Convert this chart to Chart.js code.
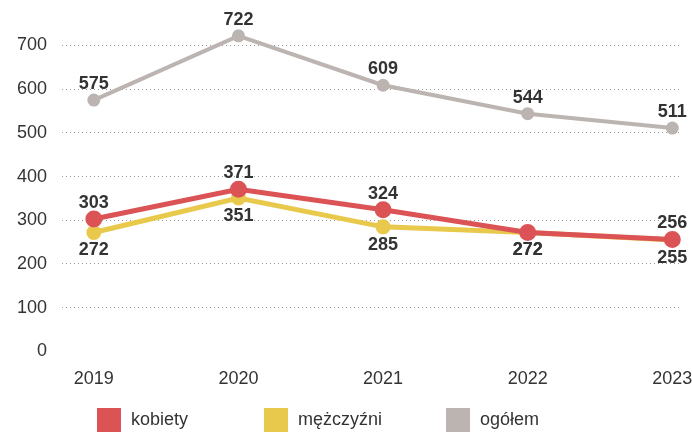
<!DOCTYPE html>
<html>
<head>
	<meta charset="utf-8">
	<title>Kobiety, mężczyźni, ogółem</title>
	<script src="https://cdn.jsdelivr.net/npm/chart.js@4.4.0/dist/chart.umd.min.js"></script>
	<style>
		html, body { margin: 0; padding: 0; background: #fff; }
		#wrap { width: 692px; height: 432px; }
	</style>
</head>
<body>
	<div id="wrap"><canvas id="mychart" width="692" height="432"></canvas></div>

	<script type="text/javascript">

		const years = [2019, 2020, 2021, 2022, 2023];
		const kobiety = [303, 371, 324, 272, 256];
		const mezczyzni = [272, 351, 285, 272, 255];
		const ogolem = [575, 722, 609, 544, 511];
		const yTicks = [0, 100, 200, 300, 400, 500, 600, 700];
		const legendNames = ['kobiety', 'mężczyźni', 'ogółem'];

		const FONT = "'Liberation Sans', Arial, sans-serif";
		const RED = '#db5355';
		const YELLOW = '#e8c94c';
		const GREY = '#bbb4b1';
		const legendColors = [RED, YELLOW, GREY];

		function pts(vals) {
			return vals.map((v, i) => ({ x: years[i], y: v }));
		}

		// value labels: grey and red above the point, yellow below;
		// where red meets yellow the red one goes below too
		const valueLabels = {
			id: 'valueLabels',
			afterDatasetsDraw(chart) {
				const ctx = chart.ctx;
				ctx.save();
				ctx.font = 'bold 18px ' + FONT;
				ctx.fillStyle = '#333';
				ctx.textAlign = 'center';
				chart.data.datasets.forEach((ds, di) => {
					const meta = chart.getDatasetMeta(di);
					meta.data.forEach((p, i) => {
						const v = ds.data[i].y;
						let below = ds.label === 'mężczyźni';
						if (ds.label === 'kobiety' && v === mezczyzni[i]) below = true;
						ctx.textBaseline = below ? 'top' : 'bottom';
						ctx.fillText(String(v), p.x, below ? p.y + 9 : p.y - 7);
					});
				});
				ctx.restore();
			}
		};

		// legend drawn by hand so it doesn't eat vertical space
		const bottomLegend = {
			id: 'bottomLegend',
			afterDraw(chart) {
				const ctx = chart.ctx;
				ctx.save();
				ctx.font = '18px ' + FONT;
				ctx.textBaseline = 'middle';
				let x = 97;
				const y = 420;
				legendNames.forEach((name, i) => {
					ctx.fillStyle = legendColors[i];
					ctx.fillRect(x, y - 12, 24, 24);
					ctx.fillStyle = '#333';
					ctx.fillText(name, x + 34, y);
					x += 34 + ctx.measureText(name).width + (i === 0 ? 76 : 64);
				});
				ctx.restore();
			}
		};

		const ctx = document.getElementById('mychart').getContext('2d');
		const myChart = new Chart(ctx, {
			type: 'line',
			data: {
				// first dataset is painted on top
				datasets: [
				{
					label: 'kobiety',
					data: pts(kobiety),
					borderColor: RED,
					backgroundColor: RED,
					borderWidth: 5,
					pointRadius: 6,
					fill: false
				},
				{
					label: 'mężczyźni',
					data: pts(mezczyzni),
					borderColor: YELLOW,
					backgroundColor: YELLOW,
					borderWidth: 5,
					pointRadius: 5,
					fill: false
				},
				{
					label: 'ogółem',
					data: pts(ogolem),
					borderColor: GREY,
					backgroundColor: GREY,
					borderWidth: 4,
					pointRadius: 4.5,
					fill: false
				}
			]},
			options: {
				responsive: false,
				animation: false,
				layout: { padding: { top: 23, right: 0, left: 2, bottom: 25 } },
				scales: {
					x: {
						type: 'linear',
						min: 2018.78,
						max: 2023.06,
						afterBuildTicks: s => { s.ticks = years.map(v => ({ value: v })); },
						// let the grid run to the right edge, 2023 label may touch it
						afterFit: s => { s.paddingRight = 0; },
						grid: { display: false, drawTicks: false },
						border: { display: false },
						ticks: {
							color: '#333',
							font: { family: FONT, size: 18 },
							padding: 17,
							callback: v => String(v)
						}
					},
					y: {
						min: 0,
						max: 745,
						afterBuildTicks: s => { s.ticks = yTicks.map(v => ({ value: v })); },
						border: { display: false, dash: [1, 3] },
						grid: {
							drawTicks: false,
							color: c => c.tick && c.tick.value === 0 ? 'rgba(0,0,0,0)' : '#999',
							lineWidth: 1
						},
						ticks: {
							color: '#333',
							font: { family: FONT, size: 18 },
							padding: 15
						}
					}
				},
				plugins: {
					legend: { display: false },
					tooltip: { enabled: false }
				}
			},
			plugins: [valueLabels, bottomLegend]
		});
	</script>
</body>
</html>
